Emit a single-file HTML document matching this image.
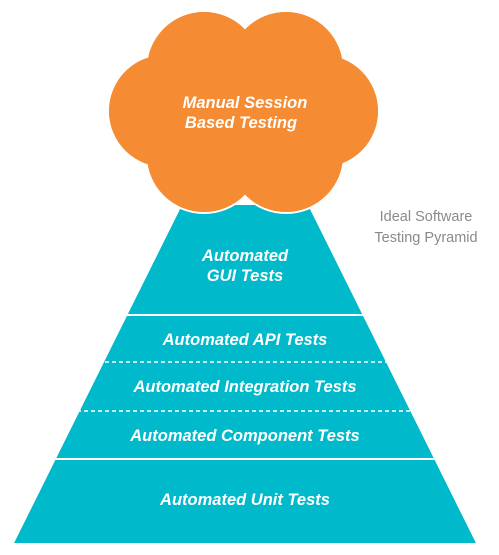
<!DOCTYPE html>
<html><head><meta charset="utf-8"><style>
html,body{margin:0;padding:0;background:#fff;width:499px;height:555px;overflow:hidden}
svg{display:block}
.t{font-family:"Liberation Sans",sans-serif;font-weight:bold;font-style:italic;fill:#fff;font-size:16.5px;text-anchor:middle}
.g{font-family:"Liberation Sans",sans-serif;fill:#8a8a8a;font-size:14.5px;text-anchor:middle}
</style></head><body>
<svg width="499" height="555" viewBox="0 0 499 555">
<polygon points="182,205 308,205 476,543 14,543" fill="#00b9cb"/>
<line x1="0" y1="315" x2="499" y2="315" stroke="#fff" stroke-width="2"/>
<line x1="0" y1="459" x2="499" y2="459" stroke="#fff" stroke-width="2"/>
<line x1="0" y1="362" x2="499" y2="362" stroke="#fff" stroke-width="1.5" stroke-dasharray="4,3"/>
<line x1="0" y1="411" x2="499" y2="411" stroke="#fff" stroke-width="1.5" stroke-dasharray="4,3"/>
<polygon points="0,205 182,205 14,543 0,543" fill="#fff"/>
<polygon points="308,205 499,205 499,543 476,543" fill="#fff"/>
<g fill="#f58b33" stroke="#fff" stroke-width="2">
<circle cx="204" cy="69" r="58"/>
<circle cx="286" cy="69" r="58"/>
<circle cx="165" cy="111" r="57"/>
<circle cx="322" cy="111" r="57"/>
<circle cx="204" cy="155" r="58"/>
<circle cx="286" cy="155" r="58"/>
</g>
<g fill="#f58b33">
<circle cx="204" cy="69" r="57"/>
<circle cx="286" cy="69" r="57"/>
<circle cx="165" cy="111" r="56"/>
<circle cx="322" cy="111" r="56"/>
<circle cx="204" cy="155" r="57"/>
<circle cx="286" cy="155" r="57"/>
<rect x="160" y="60" width="170" height="110"/>
</g>
<text class="t" x="245" y="108">Manual Session</text>
<text class="t" x="241" y="128">Based Testing</text>
<text class="t" x="245" y="261">Automated</text>
<text class="t" x="245" y="281">GUI Tests</text>
<text class="t" x="245" y="345">Automated API Tests</text>
<text class="t" x="245" y="392">Automated Integration Tests</text>
<text class="t" x="245" y="441">Automated Component Tests</text>
<text class="t" x="245" y="505">Automated Unit Tests</text>
<text class="g" x="426" y="221">Ideal Software</text>
<text class="g" x="426" y="242">Testing Pyramid</text>
</svg>
</body></html>
